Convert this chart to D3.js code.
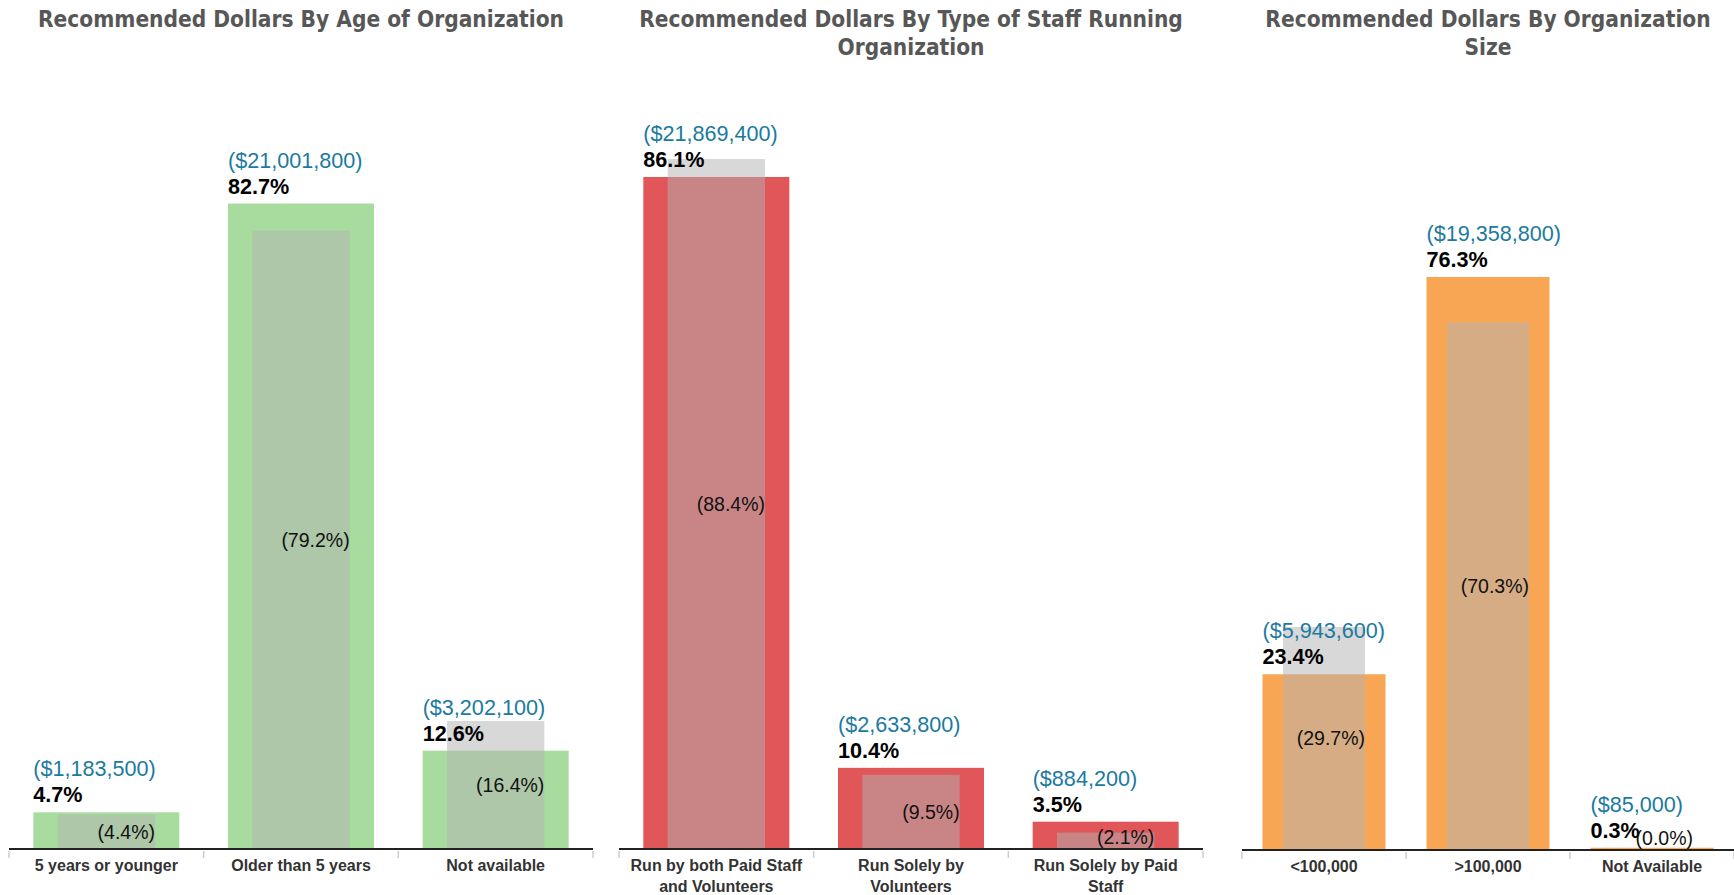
<!DOCTYPE html>
<html>
<head>
<meta charset="utf-8">
<script src="https://cdnjs.cloudflare.com/ajax/libs/d3/7.8.5/d3.min.js"></script>
<style>
  body { margin: 0; background: #fff; }
  svg { display: block; }
  .title { font-family: "DejaVu Sans Condensed", "DejaVu Sans", sans-serif; font-weight: bold; fill: #575757; font-size: 22.5px; }
  .cat { font-family: "Liberation Sans", Arial, sans-serif; font-weight: bold; fill: #333; font-size: 16px; }
  .dollar { font-family: "Liberation Sans", Arial, sans-serif; fill: #1b7aa0; font-size: 21.6px; }
  .pct { font-family: "Liberation Sans", Arial, sans-serif; font-weight: bold; fill: #000; font-size: 21.6px; }
  .sharelbl { font-family: "Liberation Sans", Arial, sans-serif; fill: #111; font-size: 19.5px; }
</style>
</head>
<body>
<svg width="1734" height="895"></svg>
<script>
"use strict";

// panel 1: age of organization
var ageCats = ["5 years or younger", "Older than 5 years", "Not available"];
var agePct = [4.7, 82.7, 12.6];
var ageDollars = [1183500, 21001800, 3202100];
var ageShare = [4.4, 79.2, 16.4];

// panel 2: type of staff
var staffCats = ["Run by both Paid Staff and Volunteers", "Run Solely by Volunteers", "Run Solely by Paid Staff"];
var staffPct = [86.1, 10.4, 3.5];
var staffDollars = [21869400, 2633800, 884200];
var staffShare = [88.4, 9.5, 2.1];

// panel 3: organization size
var sizeCats = ["<100,000", ">100,000", "Not Available"];
var sizePct = [23.4, 76.3, 0.3];
var sizeDollars = [5943600, 19358800, 85000];
var sizeShare = [29.7, 70.3, 0.0];

var titles = [
  "Recommended Dollars By Age of Organization",
  "Recommended Dollars By Type of Staff Running Organization",
  "Recommended Dollars By Organization Size"
];

var svg = d3.select("svg");
var fmtDollar = d3.format(",");
var fmtPct = d3.format(".1f");

var panels = [
  {title: titles[0], cats: ageCats, pct: agePct, dollars: ageDollars, share: ageShare,
   color: "#a8dc9e", x0: 9, x1: 593, base: 849, top: 68.5},
  {title: titles[1], cats: staffCats, pct: staffPct, dollars: staffDollars, share: staffShare,
   color: "#e05659", x0: 619, x1: 1203, base: 849, top: 68.5},
  {title: titles[2], cats: sizeCats, pct: sizePct, dollars: sizeDollars, share: sizeShare,
   color: "#f8a654", x0: 1242, x1: 1734, base: 850, top: 99}
];

function wrap(textSel, width, lineHeight) {
  textSel.each(function() {
    var text = d3.select(this),
        words = text.text().split(/\s+/),
        x = text.attr("x"),
        line = [],
        tspan = text.text(null).append("tspan").attr("x", x).attr("dy", 0);
    words.forEach(function(w) {
      line.push(w);
      tspan.text(line.join(" "));
      if (tspan.node().getComputedTextLength() > width && line.length > 1) {
        line.pop();
        tspan.text(line.join(" "));
        line = [w];
        tspan = text.append("tspan").attr("x", x).attr("dy", lineHeight).text(w);
      }
    });
  });
}

panels.forEach(function(p) {
  var g = svg.append("g");
  var rows = p.cats.map(function(c, i) {
    return {cat: c, pct: p.pct[i], dollars: p.dollars[i], share: p.share[i]};
  });

  var x = d3.scaleBand()
    .domain(p.cats)
    .range([p.x0, p.x1])
    .paddingInner(0.25)
    .paddingOuter(0.125);
  var y = d3.scaleLinear().domain([0, 100]).range([p.base, p.top]);
  var step = x.step();
  var grayW = step * 0.5;

  // title
  g.append("text")
    .attr("class", "title")
    .attr("x", (p.x0 + p.x1) / 2)
    .attr("y", 27)
    .attr("text-anchor", "middle")
    .text(p.title)
    .call(wrap, p.x1 - p.x0 - 10, 28);

  // main bars
  g.selectAll("rect.main").data(rows).enter().append("rect")
    .attr("class", "main")
    .attr("x", function(d) { return x(d.cat); })
    .attr("width", x.bandwidth())
    .attr("y", function(d) { return y(d.pct); })
    .attr("height", function(d) { return p.base - y(d.pct); })
    .attr("fill", p.color);

  // overlay bars (share of count)
  g.selectAll("rect.share").data(rows).enter().append("rect")
    .attr("class", "share")
    .attr("x", function(d) { return x(d.cat) + (x.bandwidth() - grayW) / 2; })
    .attr("width", grayW)
    .attr("y", function(d) { return y(d.share); })
    .attr("height", function(d) { return p.base - y(d.share); })
    .attr("fill", "#b2b2b2")
    .attr("fill-opacity", 0.51);

  // axis
  var ticks = d3.range(p.cats.length + 1).map(function(i) { return p.x0 + i * step; });
  g.selectAll("line.tick").data(ticks).enter().append("line")
    .attr("x1", function(d) { return d; }).attr("x2", function(d) { return d; })
    .attr("y1", p.base + 2).attr("y2", p.base + 9)
    .attr("stroke", "#ccc").attr("stroke-width", 1.5);
  g.append("line")
    .attr("x1", p.x0).attr("x2", p.x1)
    .attr("y1", p.base).attr("y2", p.base)
    .attr("stroke", "#222").attr("stroke-width", 2);

  g.selectAll("text.cat").data(rows).enter().append("text")
    .attr("class", "cat")
    .attr("x", function(d) { return x(d.cat) + x.bandwidth() / 2; })
    .attr("y", p.base + 22)
    .attr("text-anchor", "middle")
    .text(function(d) { return d.cat; })
    .call(wrap, 178, 21);

  // labels
  g.selectAll("text.dollar").data(rows).enter().append("text")
    .attr("class", "dollar")
    .attr("x", function(d) { return x(d.cat); })
    .attr("y", function(d) { return y(d.pct) - 36; })
    .text(function(d) { return "($" + fmtDollar(d.dollars) + ")"; });

  g.selectAll("text.pct").data(rows).enter().append("text")
    .attr("class", "pct")
    .attr("x", function(d) { return x(d.cat); })
    .attr("y", function(d) { return y(d.pct) - 10; })
    .text(function(d) { return fmtPct(d.pct) + "%"; });

  g.selectAll("text.sharelbl").data(rows).enter().append("text")
    .attr("class", "sharelbl")
    .attr("x", function(d) { return x(d.cat) + (x.bandwidth() + grayW) / 2; })
    .attr("y", function(d) { return Math.min((y(d.share) + p.base) / 2, p.base - 12); })
    .attr("dy", "0.35em")
    .attr("text-anchor", "end")
    .text(function(d) { return "(" + fmtPct(d.share) + "%)"; });
});
</script>
</body>
</html>
